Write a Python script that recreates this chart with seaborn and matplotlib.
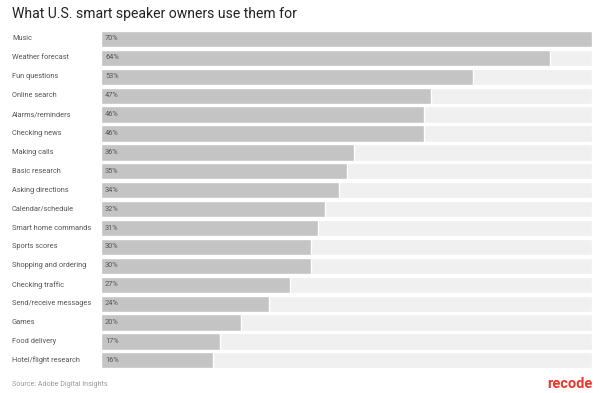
# What U.S. smart speaker owners use them for
import pandas as pd
import matplotlib.pyplot as plt
import seaborn as sns

uses = ['Music', 'Weather forecast', 'Fun questions', 'Online search',
        'Alarms/reminders', 'Checking news', 'Making calls', 'Basic research',
        'Asking directions', 'Calendar/schedule', 'Smart home commands',
        'Sports scores', 'Shopping and ordering', 'Checking traffic',
        'Send/receive messages', 'Games', 'Food delivery', 'Hotel/flight research']
shares = [70, 64, 53, 47, 46, 46, 36, 35, 34, 32, 31, 30, 30, 27, 24, 20, 17, 16]
full_scale = 70

data = pd.DataFrame({'use': uses, 'share': shares})
data['full'] = full_scale

sns.set_style('white')
plt.rcParams['font.family'] = ['Roboto', 'DejaVu Sans']

fig = plt.figure(figsize=(6, 3.93), dpi=100)
ax = fig.add_axes([0.168, 0.059, 0.819, 0.866])

# background track bars, then the values on top
sns.barplot(x='full', y='use', data=data, color='#f0f0f0', width=0.86,
            saturation=1, ax=ax)
sns.barplot(x='share', y='use', data=data, color='#c4c4c4', width=0.86,
            saturation=1, ax=ax)

for i, v in enumerate(shares):
    ax.text(0.6, i, f'{v}%', va='center', ha='left', fontsize=5.3, color='#555555')

ax.set_xlim(0, full_scale)
ax.set_ylim(len(uses) - 0.5, -0.5)
ax.set_xlabel('')
ax.set_ylabel('')
ax.set_xticks([])
ax.set_yticks(range(len(uses)))
ax.set_yticklabels([])
ax.tick_params(left=False)
sns.despine(ax=ax, left=True, bottom=True, top=True, right=True)

for i, name in enumerate(uses):
    ax.annotate(name, xy=(0, i), xycoords=('figure fraction', 'data'),
                xytext=(12, 0), textcoords='offset pixels',
                va='center', ha='left', fontsize=5.3, color='#555555')

fig.text(12 / 600, 1 - 14 / 393, 'What U.S. smart speaker owners use them for',
         fontsize=10.1, color='#222222', va='center', ha='left')
fig.text(12 / 600, 1 - 384 / 393, 'Source: Adobe Digital Insights',
         fontsize=5.1, color='#999999', va='center', ha='left')
fig.text(592 / 600, 1 - 384 / 393, 'recode', fontsize=10.5, color='#e8372c',
         fontweight='bold', va='center', ha='right')

plt.savefig('out.png', dpi=100)
